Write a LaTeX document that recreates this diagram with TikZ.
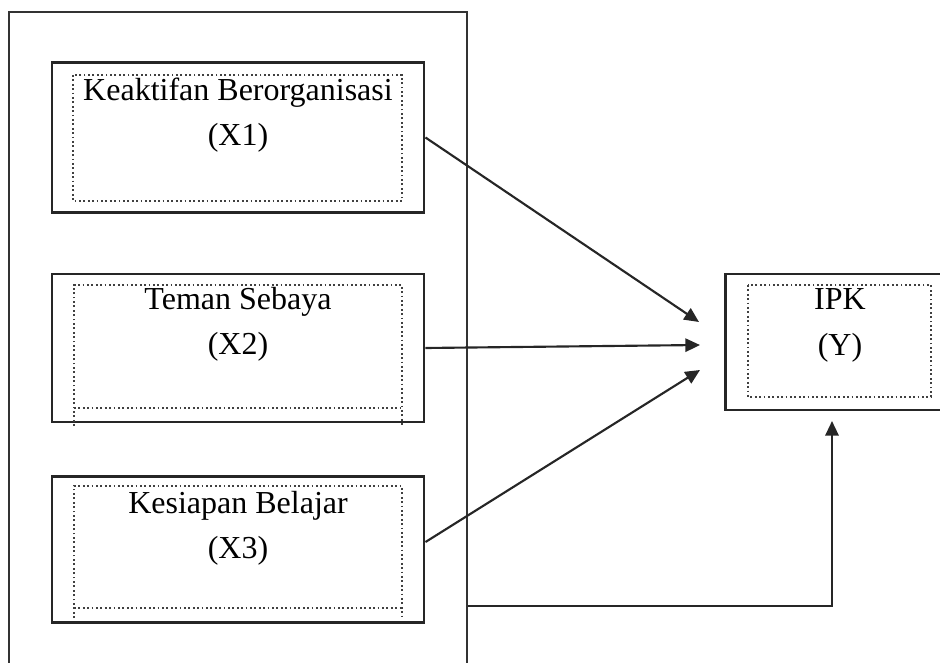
\documentclass[tikz,border=0pt]{standalone}
\usepackage{fontspec}
\setmainfont{Liberation Serif}
\usetikzlibrary{arrows.meta}

\tikzset{every picture/.style={line width=0.75pt}}
\tikzset{
  groupbox/.style={draw, line width=1.6pt, color=black!80, inner sep=0pt},
  varbox/.style={draw, line width=2.2pt, color=black!85, inner sep=0pt},
  dotline/.style={dotted, line width=1.3pt, color=black!75},
  varlabel/.style={align=center, inner sep=0pt, font=\fontsize{24}{34}\selectfont},
  link/.style={line width=1.6pt, color=black!85, -{Triangle[length=11pt,width=10pt]}}
}

\begin{document}
\begin{tikzpicture}[x=0.75pt,y=0.75pt,yscale=-1,xscale=1]
\useasboundingbox (0,0) rectangle (940,663);
\clip (0,0) rectangle (940,663);

%Rect group
\node [groupbox, minimum width=343.5pt, minimum height=516pt] (grp) at (238,356) {};

%Rect X1
\node [varbox, minimum width=279pt, minimum height=112pt] (x1) at (238,137.5) {};
%Rect X2
\node [varbox, minimum width=279pt, minimum height=111pt] (x2) at (238,348) {};
%Rect X3
\node [varbox, minimum width=279pt, minimum height=110pt] (x3) at (238,549.5) {};
%Rect Y
\node [varbox, minimum width=172pt, minimum height=102pt] (y) at (840.5,342) {};

%Dotted frames
\draw [dotline] (73,75) rectangle (402,201);
\draw [dotline] (74,426) -- (74,285) -- (402,285) -- (402,426) (74,408) -- (402,408);
\draw [dotline] (74,618) -- (74,486) -- (402,486) -- (402,618) (74,608) -- (402,608);
\draw [dotline] (748,285) rectangle (931,397);

% Text Node
\node [varlabel] (tx1) at (238,115) {Keaktifan Berorganisasi\\(X1)};
% Text Node
\node [varlabel] (tx2) at (238,324) {Teman Sebaya\\(X2)};
% Text Node
\node [varlabel] (tx3) at (238,528.5) {Kesiapan Belajar\\(X3)};
% Text Node
\node [varlabel] (ty) at (840,325.5) {IPK\\(Y)};

%Arrow ends
\coordinate (h1) at (699,322);
\coordinate (h2) at (700,345);
\coordinate (h3) at (700,370);
\coordinate (h4) at (832,421);
\coordinate (c1) at (832,606);

%Straight Lines
\draw [link] (x1.east) -- (h1);
\draw [link] (x2.east) -- (h2);
\draw [link] ([yshift=-5.6pt]x3.east) -- (h3);
\draw [link] (grp.east |- c1) -- (c1) -- (h4);

\end{tikzpicture}
\end{document}
